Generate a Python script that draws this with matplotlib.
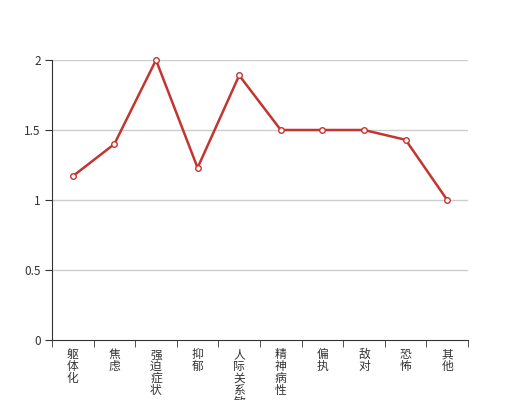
import numpy as np
import matplotlib.pyplot as plt

plt.rcParams['font.family'] = ['Noto Sans CJK SC', 'DejaVu Sans']

categories = ['躯体化', '焦虑', '强迫症状', '抑郁', '人际关系敏感',
              '精神病性', '偏执', '敌对', '恐怖', '其他']
values = [1.17, 1.40, 2.00, 1.23, 1.89, 1.50, 1.50, 1.50, 1.43, 1.00]
y_ticks = [0, 0.5, 1, 1.5, 2]
y_labels = ['0', '0.5', '1', '1.5', '2']

text_color = '#333333'
line_color = '#c23531'

fig = plt.figure(figsize=(5.2, 4), dpi=100)
ax = fig.add_axes([0.1, 0.15, 0.8, 0.7])

x = np.arange(len(categories))
ax.plot(x, values, color=line_color, linewidth=1.8, marker='o',
        markersize=4, markerfacecolor='white', markeredgecolor=line_color,
        markeredgewidth=1, zorder=3, clip_on=False)

ax.set_xlim(-0.5, len(categories) - 0.5)
ax.set_ylim(0, 2)
ax.set_yticks(y_ticks)
ax.set_yticklabels(y_labels)
for yv in y_ticks[1:]:
    ax.axhline(yv, color='#cccccc', linewidth=1, zorder=1)

ax.set_xticks(x)
ax.set_xticklabels(['\n'.join(c) for c in categories], va='top',
                   linespacing=0.88)
ax.set_xticks(np.arange(-0.5, len(categories)), minor=True)
ax.tick_params(axis='x', which='major', length=0, pad=6,
               labelsize=8.5, labelcolor=text_color)
ax.tick_params(axis='x', which='minor', length=5, color=text_color)
ax.tick_params(axis='y', length=5, color=text_color, labelsize=8.5,
               labelcolor=text_color, pad=3)

for side in ['top', 'right']:
    ax.spines[side].set_visible(False)
ax.spines['left'].set_color(text_color)
ax.spines['bottom'].set_color(text_color)

fig.savefig('out.png', dpi=100)
